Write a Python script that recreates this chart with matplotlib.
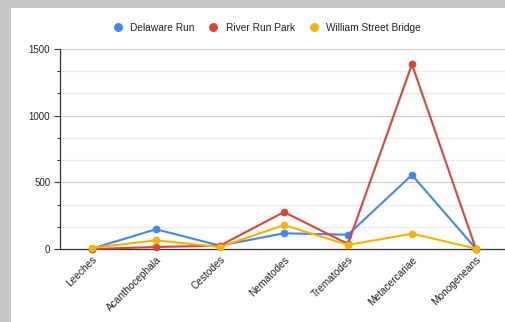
import numpy as np
import matplotlib
matplotlib.use("Agg")
import matplotlib.pyplot as plt
from matplotlib.patches import Rectangle
from matplotlib.ticker import MultipleLocator

plt.rcParams['font.family'] = ['Liberation Sans', 'DejaVu Sans']

# Data
categories = ['Leeches', 'Acanthocephala', 'Cestodes', 'Nematodes',
              'Trematodes', 'Metacercariae', 'Monogeneans']
delaware_run = [3, 148, 25, 118, 107, 555, 2]
river_run_park = [0, 15, 25, 277, 38, 1385, 0]
william_street = [8, 65, 15, 180, 30, 115, 3]

series = [
    ('Delaware Run', delaware_run, '#4285F4'),
    ('River Run Park', river_run_park, '#DB4437'),
    ('William Street Bridge', william_street, '#F4B400'),
]

W, H = 506, 322
fig = plt.figure(figsize=(W / 100, H / 100), dpi=100)
fig.patch.set_facecolor('#c8c8c8')
# white card behind the chart
fig.patches.append(Rectangle((11 / W, 0), 1 - 11 / W, (H - 8) / H,
                             transform=fig.transFigure, facecolor='white',
                             edgecolor='none', zorder=-5))

ax = fig.add_axes([60 / W, (H - 249) / H, (W - 60) / W, 200 / H])
ax.set_facecolor('none')

x = np.arange(len(categories))
for name, vals, col in series:
    ax.plot(x, vals, color=col, lw=1.5, marker='o', ms=4.5, label=name,
            clip_on=False, zorder=3)

ax.set_xlim(-0.5, 6.47)
ax.set_ylim(0, 1500)
ax.yaxis.set_major_locator(MultipleLocator(500))
ax.yaxis.set_minor_locator(MultipleLocator(500 / 3))
ax.grid(axis='y', which='major', color='#cccccc', lw=0.8)
ax.grid(axis='y', which='minor', color='#ebebeb', lw=0.8)
ax.set_axisbelow(True)

for s in ['top', 'right']:
    ax.spines[s].set_visible(False)
ax.spines['left'].set_color('#333333')
ax.spines['bottom'].set_color('#333333')
ax.spines['left'].set_linewidth(0.9)
ax.spines['bottom'].set_linewidth(0.9)

ax.tick_params(axis='y', which='major', length=4, width=0.8, color='#333333',
               labelsize=7, labelcolor='#222222', pad=3)
ax.tick_params(axis='y', which='minor', length=2, width=0.8, color='#333333')
ax.tick_params(axis='x', length=0, pad=4)
ax.set_xticks(x)
ax.set_xticklabels(categories, rotation=45, ha='right', rotation_mode='anchor',
                   fontsize=7.3, color='#222222')

leg = fig.legend(loc='center', bbox_to_anchor=(0.529, 1 - 28 / H), ncol=3,
                 frameon=False, fontsize=7.3, handlelength=0.6,
                 handletextpad=0.9, columnspacing=1.6, markerscale=1.2,
                 labelcolor='#222222')
for h in leg.legend_handles:
    h.set_linestyle('none')

fig.savefig('out.png', dpi=100, facecolor=fig.get_facecolor())
